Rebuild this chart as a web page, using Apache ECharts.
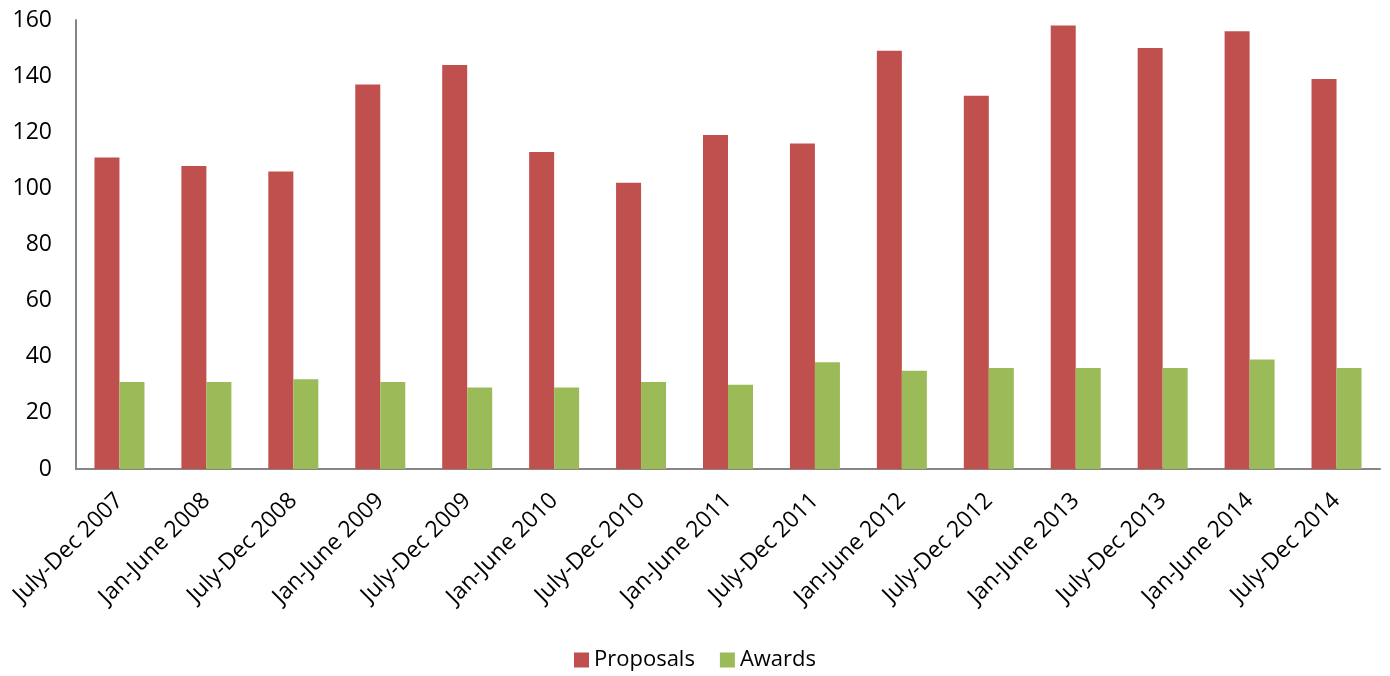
<!DOCTYPE html>
<html>
<head>
<meta charset="utf-8">
<script src="https://cdn.jsdelivr.net/npm/echarts@6/dist/echarts.min.js"></script>
<style>
  html, body { margin: 0; padding: 0; background: #fff; }
  #main { width: 1390px; height: 676px; }
</style>
</head>
<body>
<div id="main"></div>
<script>
const categories = [
  'July-Dec 2007', 'Jan-June 2008', 'July-Dec 2008', 'Jan-June 2009', 'July-Dec 2009',
  'Jan-June 2010', 'July-Dec 2010', 'Jan-June 2011', 'July-Dec 2011', 'Jan-June 2012',
  'July-Dec 2012', 'Jan-June 2013', 'July-Dec 2013', 'Jan-June 2014', 'July-Dec 2014'
];
const proposals = [111, 108, 106, 137, 144, 113, 102, 119, 116, 149, 133, 158, 150, 156, 139];
const awards = [31, 31, 32, 31, 29, 29, 31, 30, 38, 35, 36, 36, 36, 39, 36];

const chart = echarts.init(document.getElementById('main'));
const font = 'Open Sans, Noto Sans, sans-serif';

chart.setOption({
  animation: false,
  textStyle: { fontFamily: font },
  grid: { left: 76, right: 10, top: 20, bottom: 207 },
  legend: {
    bottom: 0,
    left: 'center',
    itemWidth: 15,
    itemHeight: 15,
    itemGap: 25,
    icon: 'rect',
    textStyle: { fontSize: 22, color: '#000', fontFamily: font },
    data: ['Proposals', 'Awards']
  },
  xAxis: {
    type: 'category',
    data: categories,
    axisLine: { lineStyle: { color: '#868686', width: 2 } },
    axisTick: { show: false },
    axisLabel: {
      rotate: 45,
      interval: 0,
      fontSize: 23,
      color: '#000',
      margin: 28
    }
  },
  yAxis: {
    type: 'value',
    min: 0,
    max: 160,
    interval: 20,
    splitLine: { show: false },
    axisLine: { show: true, lineStyle: { color: '#868686', width: 2 } },
    axisTick: { show: false },
    axisLabel: { fontSize: 23, color: '#000', margin: 24 }
  },
  series: [
    {
      name: 'Proposals',
      type: 'bar',
      data: proposals,
      barWidth: 25,
      barGap: '0%',
      itemStyle: { color: '#C0504D' }
    },
    {
      name: 'Awards',
      type: 'bar',
      data: awards,
      barWidth: 25,
      barGap: '0%',
      itemStyle: { color: '#9BBB59' }
    }
  ]
});
</script>
</body>
</html>
